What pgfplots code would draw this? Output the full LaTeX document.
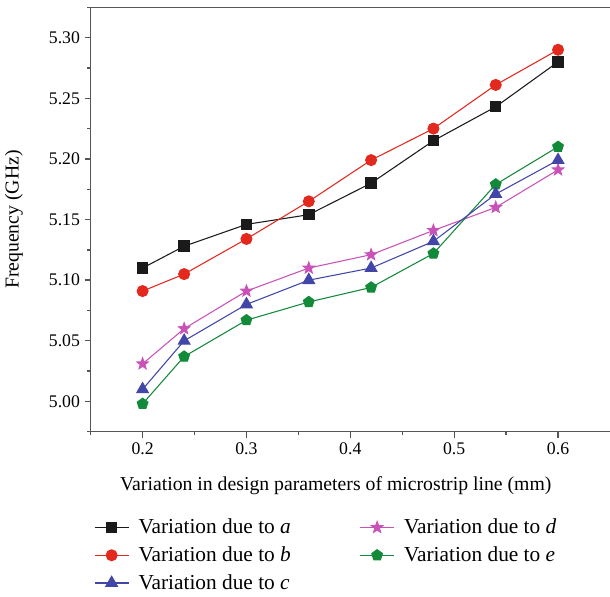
\documentclass[border=0pt]{standalone}
\usepackage{fontspec}
\setmainfont{Liberation Serif}
\usepackage{pgfplots}
\pgfplotsset{compat=1.18}
\definecolor{cA}{HTML}{1A1A1A}
\definecolor{cB}{HTML}{E3281E}
\definecolor{cC}{HTML}{4146A8}
\definecolor{cD}{HTML}{C952B8}
\definecolor{cE}{HTML}{13893A}
\definecolor{axc}{HTML}{555555}
\pgfdeclareplotmark{fstar}{%
  \pgfpathmoveto{\pgfpointpolar{90}{\pgfplotmarksize}}%
  \pgfpathlineto{\pgfpointpolar{126}{0.42*\pgfplotmarksize}}%
  \pgfpathlineto{\pgfpointpolar{162}{\pgfplotmarksize}}%
  \pgfpathlineto{\pgfpointpolar{198}{0.42*\pgfplotmarksize}}%
  \pgfpathlineto{\pgfpointpolar{234}{\pgfplotmarksize}}%
  \pgfpathlineto{\pgfpointpolar{270}{0.42*\pgfplotmarksize}}%
  \pgfpathlineto{\pgfpointpolar{306}{\pgfplotmarksize}}%
  \pgfpathlineto{\pgfpointpolar{342}{0.42*\pgfplotmarksize}}%
  \pgfpathlineto{\pgfpointpolar{18}{\pgfplotmarksize}}%
  \pgfpathlineto{\pgfpointpolar{54}{0.42*\pgfplotmarksize}}%
  \pgfpathclose\pgfusepathqfillstroke}
\begin{document}
\begin{tikzpicture}
\begin{axis}[
  scale only axis, width=389.5pt, height=318.3pt,
  xmin=0.15, xmax=0.65, ymin=4.975, ymax=5.325,
  axis x line*=box, axis y line*=left,
  axis line style={-, draw=axc, line width=1pt},
  xtick pos=bottom, ytick pos=left,
  tick align=outside,
  major tick length=4.5pt, minor tick length=2.5pt,
  tick style={draw=axc, line width=1pt},
  xtick={0.2,0.3,0.4,0.5,0.6},
  minor xtick={0.15,0.25,0.35,0.45,0.55},
  ytick={5.00,5.05,5.10,5.15,5.20,5.25,5.30},
  minor ytick={4.975,5.025,5.075,5.125,5.175,5.225,5.275,5.325},
  /pgf/number format/assume math mode=true,
  xticklabel style={/pgf/number format/fixed, /pgf/number format/precision=1, font=\fontsize{13.3}{15}\selectfont},
  yticklabel style={/pgf/number format/fixed, /pgf/number format/fixed zerofill, /pgf/number format/precision=2, font=\fontsize{13.3}{15}\selectfont},
  xlabel={Variation in design parameters of microstrip line (mm)},
  ylabel={Frequency (GHz)},
  every axis x label/.style={at={(axis description cs:0.472,0)}, anchor=base, yshift=-43.7pt, font=\fontsize{14.8}{17}\selectfont},
  every axis y label/.style={at={(axis description cs:-0.1476,0.5)}, rotate=90, anchor=center, font=\fontsize{14.8}{17}\selectfont},
  legend columns=2,
  legend cell align=left,
  legend style={at={(axis description cs:0.006,-0.199)}, anchor=north west, draw=none, fill=none, inner sep=0pt,
    font=\fontsize{16}{18}\selectfont, row sep=4.2pt,
    /tikz/column 1/.style={column sep=5pt},
    /tikz/column 3/.style={column sep=5pt},
    /tikz/column 2/.style={column sep=49.5pt}},
  legend image code/.code={\draw[mark repeat=2, mark phase=2] plot coordinates {(0cm,0cm) (0.45cm,0cm) (0.9cm,0cm)};},
  every axis plot/.append style={line width=0.8pt},
]
\addplot[cA, mark=square*, mark size=3.9pt] coordinates {
(0.20,5.110) (0.24,5.128) (0.30,5.146) (0.36,5.154) (0.42,5.180) (0.48,5.215) (0.54,5.243) (0.60,5.280)};
\addlegendentry{Variation due to \textit{a}}
\addplot[cD, mark=fstar, mark size=4.4pt, mark options={fill=cD}] coordinates {
(0.20,5.031) (0.24,5.060) (0.30,5.091) (0.36,5.110) (0.42,5.121) (0.48,5.141) (0.54,5.160) (0.60,5.191)};
\addlegendentry{Variation due to \textit{d}}
\addplot[cB, mark=*, mark size=4.1pt] coordinates {
(0.20,5.091) (0.24,5.105) (0.30,5.134) (0.36,5.165) (0.42,5.199) (0.48,5.225) (0.54,5.261) (0.60,5.290)};
\addlegendentry{Variation due to \textit{b}}
\addplot[cE, mark=pentagon*, mark size=4.2pt] coordinates {
(0.20,4.998) (0.24,5.037) (0.30,5.067) (0.36,5.082) (0.42,5.094) (0.48,5.122) (0.54,5.179) (0.60,5.210)};
\addlegendentry{Variation due to \textit{e}}
\addplot[cC, mark=triangle*, mark size=5pt] coordinates {
(0.20,5.010) (0.24,5.050) (0.30,5.080) (0.36,5.100) (0.42,5.110) (0.48,5.132) (0.54,5.171) (0.60,5.199)};
\addlegendentry{Variation due to \textit{c}}
\end{axis}
\pgfresetboundingbox
\useasboundingbox (-68pt,-123.2pt) rectangle (389.5pt,323.8pt);
\end{tikzpicture}
\end{document}
